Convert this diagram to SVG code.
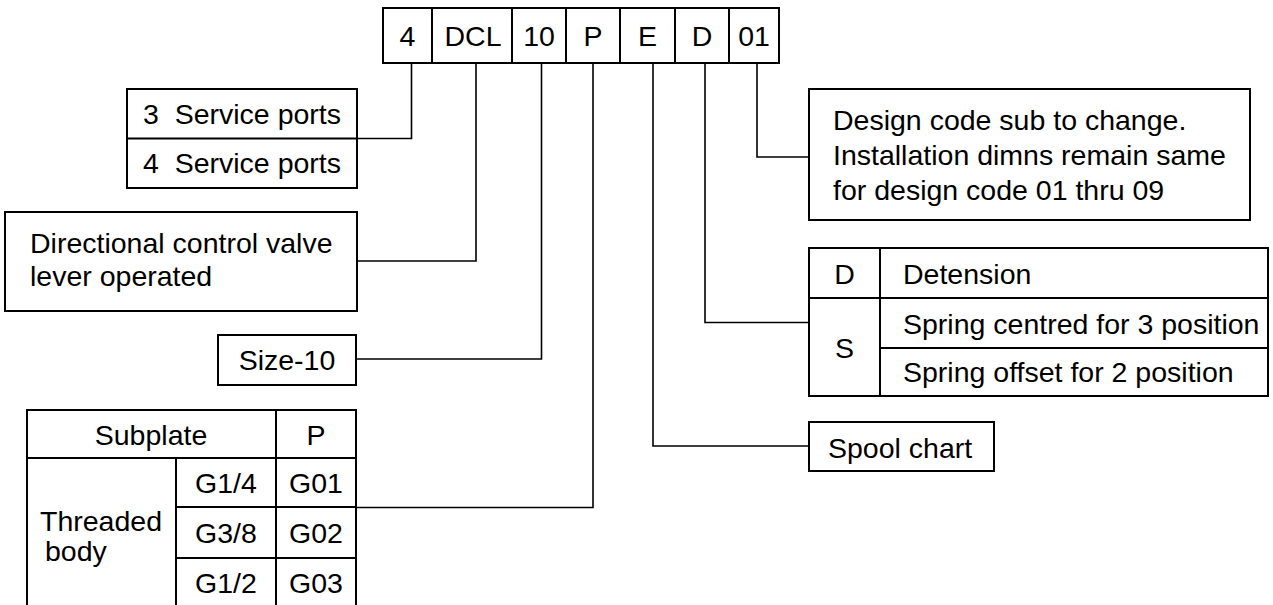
<svg xmlns="http://www.w3.org/2000/svg" width="1273" height="605" viewBox="0 0 1273 605">
<style>
  .box{fill:#fff;stroke:#000;stroke-width:2}
  .ln{fill:none;stroke:#000;stroke-width:2}
  .cn{fill:none;stroke:#000;stroke-width:1.6}
  text{font-family:"Liberation Sans",Arial,sans-serif;font-size:28.5px;fill:#000}
  .c{text-anchor:middle}
</style>
<rect width="1273" height="605" fill="#fff"/>
<g id="connectors">
  <path class="cn" d="M411.5 63 V138.5 H357"/>
  <path class="cn" d="M476 63 V261 H357"/>
  <path class="cn" d="M541.5 63 V359 H356"/>
  <path class="cn" d="M593 63 V507.5 H356"/>
  <path class="cn" d="M653 63 V446 H809"/>
  <path class="cn" d="M705 63 V322.5 H809"/>
  <path class="cn" d="M757 63 V157 H809"/>
</g>
<g id="code">
  <rect class="box" x="383" y="8" width="396" height="55"/>
  <path class="ln" d="M432 8V63 M512 8V63 M566 8V63 M620 8V63 M675 8V63 M729 8V63"/>
  <text class="c" x="407.5" y="46">4</text>
  <text class="c" x="473" y="46">DCL</text>
  <text class="c" x="539" y="46">10</text>
  <text class="c" x="593" y="46">P</text>
  <text class="c" x="647.5" y="46">E</text>
  <text class="c" x="702" y="46">D</text>
  <text class="c" x="754" y="46">01</text>
</g>
<g id="service-ports">
  <rect class="box" x="127" y="89" width="230" height="99"/>
  <path class="ln" d="M127 138.5H357"/>
  <text x="143" y="124" xml:space="preserve">3  Service ports</text>
  <text x="143" y="173" xml:space="preserve">4  Service ports</text>
</g>
<g id="valve-type">
  <rect class="box" x="5" y="212" width="352" height="99"/>
  <text x="30" y="253">Directional control valve</text>
  <text x="30" y="286">lever operated</text>
</g>
<g id="size">
  <rect class="box" x="218" y="335" width="138" height="50"/>
  <text class="c" x="287" y="370">Size-10</text>
</g>
<g id="subplate">
  <path class="ln" d="M27 605V410H356V605 M27 458H356 M176 507H356 M176 558H356 M176 458V605 M276 410V605"/>
  <text class="c" x="151" y="445">Subplate</text>
  <text class="c" x="316" y="445">P</text>
  <text class="c" x="226" y="493">G1/4</text>
  <text class="c" x="316" y="493">G01</text>
  <text class="c" x="226" y="543">G3/8</text>
  <text class="c" x="316" y="543">G02</text>
  <text class="c" x="226" y="593">G1/2</text>
  <text class="c" x="316" y="593">G03</text>
  <text x="40" y="531">Threaded</text>
  <text x="45" y="561">body</text>
</g>
<g id="design-code">
  <rect class="box" x="809" y="89" width="441" height="131"/>
  <text x="833" y="130">Design code sub to change.</text>
  <text x="833" y="165">Installation dimns remain same</text>
  <text x="833" y="200">for design code 01 thru 09</text>
</g>
<g id="operation">
  <rect class="box" x="809" y="248" width="459" height="148"/>
  <path class="ln" d="M809 298H1268 M880 348H1268 M880 248V396"/>
  <text class="c" x="844.5" y="284">D</text>
  <text class="c" x="844.5" y="358">S</text>
  <text x="903" y="284">Detension</text>
  <text x="903" y="334">Spring centred for 3 position</text>
  <text x="903" y="382">Spring offset for 2 position</text>
</g>
<g id="spool">
  <rect class="box" x="809" y="422" width="185" height="49"/>
  <text x="828" y="458">Spool chart</text>
</g>
</svg>
